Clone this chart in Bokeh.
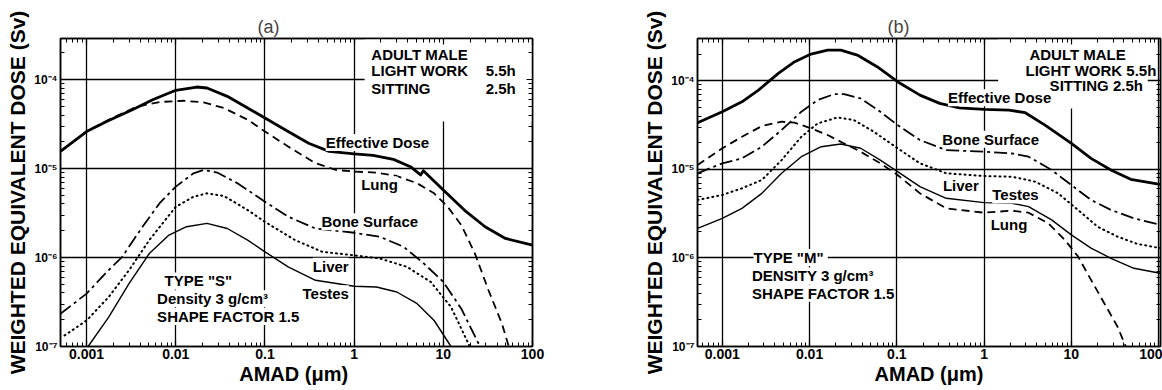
from bokeh.plotting import figure
from bokeh.models import Label, BoxAnnotation, LogAxis, FixedTicker, CustomJSTickFormatter
from bokeh.layouts import row
from bokeh.embed import file_html
from bokeh.resources import INLINE

# ---------------- ticks ----------------
x_ticks = [0.001, 0.01, 0.1, 1, 10, 100]
y_ticks = [1e-7, 1e-6, 1e-5, 1e-4]
x_minor = [m * 10.0 ** e for e in range(-4, 3) for m in range(2, 10)]
y_minor = [m * 10.0 ** e for e in range(-8, -3) for m in range(2, 10)]

# ---------------- panel (a): TYPE "S"  (AMAD in um, dose in Sv) ----------------
a_eff_x = [5.09e-4, 1.0e-3, 1.77e-3, 3.26e-3, 5.51e-3, 0.01, 0.0172, 0.0224, 0.0378, 0.064, 0.1, 0.182,
           0.309, 0.524, 1.0, 1.63, 2.76, 4.28, 5.56, 5.97, 10, 17.2, 29.4, 49.7, 100]
a_eff_y = [1.56e-5, 2.61e-5, 3.48e-5, 4.59e-5, 5.94e-5, 7.59e-5, 8.26e-5, 8.05e-5, 6.49e-5, 4.79e-5, 3.70e-5,
           2.61e-5, 1.93e-5, 1.56e-5, 1.46e-5, 1.41e-5, 1.27e-5, 1.05e-5, 8.49e-6, 9.48e-6, 5.74e-6, 3.42e-6,
           2.22e-6, 1.64e-6, 1.38e-6]

a_lung_x = [5.09e-4, 1.0e-3, 1.77e-3, 3.56e-3, 6.56e-3, 0.0121, 0.0205, 0.0347, 0.064, 0.1, 0.182, 0.369,
            0.624, 1.0, 1.78, 3.01, 5.09, 7.89, 11.2, 15.9, 22.6, 32.1, 45.5, 54.2]
a_lung_y = [1.56e-5, 2.61e-5, 3.54e-5, 4.92e-5, 5.60e-5, 5.79e-5, 5.55e-5, 4.79e-5, 3.54e-5, 2.61e-5, 1.77e-5,
            1.15e-5, 9.66e-6, 9.25e-6, 9.02e-6, 8.26e-6, 6.84e-6, 5.27e-6, 3.72e-6, 2.32e-6, 1.11e-6, 4.29e-7,
            1.80e-7, 1.0e-7]

a_bone_x = [5.09e-4, 1.0e-3, 1.62e-3, 2.51e-3, 4.24e-3, 6.56e-3, 0.01, 0.0158, 0.0205, 0.0291, 0.0492, 0.1,
            0.182, 0.369, 1.0, 1.95, 3.59, 6.07, 10, 15.9, 25.8]
a_bone_y = [2.33e-7, 3.93e-7, 6.61e-7, 1.02e-6, 2.22e-6, 4.06e-6, 6.27e-6, 8.85e-6, 9.66e-6, 9.02e-6, 6.84e-6,
            4.25e-6, 2.88e-6, 2.12e-6, 1.90e-6, 1.71e-6, 1.32e-6, 8.55e-7, 5.32e-7, 2.66e-7, 1.0e-7]

a_liver_x = [5.66e-4, 1.0e-3, 1.77e-3, 2.99e-3, 5.05e-3, 0.01, 0.0158, 0.0224, 0.0347, 0.064, 0.1, 0.218,
             0.44, 1.0, 1.95, 3.92, 7.23, 12.2, 19.8]
a_liver_y = [1.33e-7, 1.96e-7, 3.60e-7, 7.19e-7, 1.57e-6, 3.72e-6, 4.83e-6, 5.27e-6, 4.92e-6, 3.42e-6, 2.52e-6,
             1.57e-6, 1.16e-6, 1.06e-6, 9.75e-7, 7.85e-7, 5.32e-7, 2.78e-7, 1.0e-7]

a_testes_x = [1.04e-3, 1.77e-3, 2.99e-3, 5.05e-3, 8.39e-3, 0.0132, 0.0224, 0.0378, 0.064, 0.1, 0.182, 0.369,
              1.0, 1.78, 3.01, 5.09, 7.89, 12.2]
a_testes_y = [1.0e-7, 2.14e-7, 5.09e-7, 1.11e-6, 1.79e-6, 2.22e-6, 2.42e-6, 2.12e-6, 1.57e-6, 1.16e-6, 7.85e-7,
              5.55e-7, 4.75e-7, 4.67e-7, 4.10e-7, 3.03e-7, 1.96e-7, 1.0e-7]

# ---------------- panel (b): TYPE "M" ----------------
b_eff_x = [5.21e-4, 1.0e-3, 1.68e-3, 2.60e-3, 4.39e-3, 6.76e-3, 0.0104, 0.0161, 0.0228, 0.0352, 0.0594, 0.102,
           0.184, 0.310, 0.521, 1.0, 1.92, 2.96, 4.99, 10, 16.8, 28.4, 47.8, 104]
b_eff_y = [3.36e-5, 4.47e-5, 5.79e-5, 7.85e-5, 1.21e-4, 1.64e-4, 2.0e-4, 2.22e-4, 2.22e-4, 1.95e-4, 1.44e-4,
           9.75e-5, 6.89e-5, 5.55e-5, 4.95e-5, 4.75e-5, 4.67e-5, 4.36e-5, 3.16e-5, 1.96e-5, 1.33e-5, 9.82e-6,
           7.71e-6, 6.78e-6]

b_bone_x = [5.21e-4, 1.0e-3, 1.68e-3, 2.84e-3, 4.78e-3, 8.05e-3, 0.0124, 0.0192, 0.0249, 0.0385, 0.0647, 0.102,
            0.184, 0.368, 1.0, 2.09, 3.23, 5.94, 10, 16.8, 28.4, 52.1, 104]
b_bone_y = [9.02e-6, 1.17e-5, 1.33e-5, 1.80e-5, 2.78e-5, 4.47e-5, 6.05e-5, 7.08e-5, 7.08e-5, 6.32e-5, 4.47e-5,
            3.16e-5, 2.14e-5, 1.65e-5, 1.58e-5, 1.51e-5, 1.39e-5, 9.82e-6, 6.65e-6, 4.51e-6, 3.48e-6, 2.80e-6,
            2.36e-6]

b_liver_x = [5.21e-4, 1.0e-3, 1.68e-3, 2.84e-3, 4.78e-3, 8.05e-3, 0.0124, 0.0209, 0.0323, 0.0544, 0.102, 0.184,
             0.368, 1.0, 2.09, 3.85, 7.06, 11.9, 20.0, 33.7, 56.9, 104]
b_liver_y = [4.51e-6, 5.14e-6, 6.11e-6, 7.59e-6, 1.27e-5, 2.33e-5, 3.30e-5, 3.85e-5, 3.60e-5, 2.66e-5, 1.73e-5,
             1.17e-5, 9.02e-6, 8.41e-6, 8.26e-6, 7.26e-6, 5.36e-6, 3.48e-6, 2.25e-6, 1.74e-6, 1.44e-6, 1.29e-6]

b_testes_x = [5.21e-4, 1.0e-3, 1.68e-3, 2.84e-3, 4.78e-3, 8.05e-3, 0.0136, 0.0228, 0.0385, 0.0647, 0.102, 0.184,
              0.368, 1.0, 2.09, 3.23, 5.94, 10, 16.8, 28.4, 52.1, 104]
b_testes_y = [2.16e-6, 2.80e-6, 3.63e-6, 5.36e-6, 9.02e-6, 1.39e-5, 1.80e-5, 1.93e-5, 1.73e-5, 1.27e-5, 9.42e-6,
              6.38e-6, 4.71e-6, 4.21e-6, 4.14e-6, 3.79e-6, 2.69e-6, 1.82e-6, 1.29e-6, 9.91e-7, 7.64e-7, 6.71e-7]

b_lung_x = [5.21e-4, 1.0e-3, 1.68e-3, 2.84e-3, 4.78e-3, 6.76e-3, 0.0104, 0.0161, 0.0249, 0.0385, 0.0647, 0.102,
            0.184, 0.368, 1.0, 2.09, 3.23, 5.44, 8.41, 11.9, 16.8, 23.8, 33.7, 42.0]
b_lung_y = [1.12e-5, 1.73e-5, 2.33e-5, 3.08e-5, 3.45e-5, 3.36e-5, 2.90e-5, 2.44e-5, 1.96e-5, 1.58e-5, 1.17e-5,
            8.63e-6, 5.36e-6, 3.63e-6, 3.24e-6, 3.42e-6, 3.24e-6, 2.46e-6, 1.60e-6, 1.04e-6, 5.65e-7, 3.08e-7,
            1.68e-7, 1.0e-7]

FONT = "Liberation Sans"

STYLES = {
    "eff": dict(line_width=2.8),
    "lung": dict(line_width=1.8, line_dash="8 5"),
    "bone": dict(line_width=1.8, line_dash="13 4 3 4"),
    "liver": dict(line_width=2.0, line_dash="1 4"),
    "testes": dict(line_width=1.4),
}

x_fmt = CustomJSTickFormatter(code="""
const e = Math.round(Math.log10(tick));
if (e < 0) { return tick.toFixed(-e); }
return String(Math.round(tick));
""")
y_fmt = CustomJSTickFormatter(code="""
const e = Math.round(Math.log10(tick));
const m = {"-":"\u207b","0":"\u2070","1":"\u00b9","2":"\u00b2","3":"\u00b3","4":"\u2074","5":"\u2075","6":"\u2076","7":"\u2077","8":"\u2078","9":"\u2079"};
return "10" + String(e).split("").map(c => m[c]).join("");
""")
blank_fmt = CustomJSTickFormatter(code="return '';")


def style_axis(ax, is_x, labels=True):
    ax.ticker = FixedTicker(ticks=x_ticks if is_x else y_ticks,
                            minor_ticks=x_minor if is_x else y_minor)
    ax.axis_line_color = "black"
    ax.axis_line_width = 1.5
    ax.major_tick_in = 6
    ax.major_tick_out = 0
    ax.minor_tick_in = 4
    ax.minor_tick_out = 0
    ax.major_tick_line_width = 1.2
    ax.minor_tick_line_width = 1.0
    ax.major_label_text_font = FONT
    ax.major_label_text_font_style = "bold"
    ax.major_label_text_color = "black"
    ax.axis_label_text_font = FONT
    ax.axis_label_text_font_style = "bold"
    ax.axis_label_text_color = "black"
    if not labels:
        ax.formatter = blank_fmt
        ax.major_label_text_font_size = "1px"
        ax.major_label_text_color = None
        ax.major_label_standoff = 0


def make_panel(title, width, xr, yr, border_left, border_right, title_offset, xlabel, curves, labels, boxes):
    p = figure(width=width, height=390, x_axis_type="log", y_axis_type="log",
               x_range=xr, y_range=yr, output_backend="svg", toolbar_location=None,
               min_border_left=border_left, min_border_right=border_right, min_border_top=38,
               min_border_bottom=44, title=title)
    p.title.text_font = FONT
    p.title.text_font_size = "18px"
    p.title.text_font_style = "normal"
    p.title.align = "left"
    p.title.offset = title_offset
    p.title.standoff = 4
    p.outline_line_color = "black"
    p.outline_line_width = 1.5
    p.background_fill_color = "white"
    p.border_fill_color = "white"

    top = LogAxis()
    rgt = LogAxis()
    p.add_layout(top, "above")
    p.add_layout(rgt, "right")
    style_axis(p.below[0], True)
    style_axis(top, True, labels=False)
    style_axis(p.left[0], False)
    style_axis(rgt, False, labels=False)
    p.below[0].formatter = x_fmt
    p.left[0].formatter = y_fmt
    xb = p.below[0]
    xb.axis_label = xlabel
    xb.axis_label_text_font_size = "20px"
    xb.axis_label_standoff = 1
    xb.major_label_text_font_size = "14px"
    xb.major_label_standoff = 2
    yl = p.left[0]
    yl.axis_label = "WEIGHTED EQUIVALENT DOSE (Sv)"
    yl.axis_label_text_font_size = "21px"
    yl.axis_label_standoff = 2
    yl.major_label_text_font_size = "12px"
    yl.major_label_standoff = 3

    for g in (p.xgrid, p.ygrid):
        g.grid_line_color = "black"
        g.grid_line_width = 1.3
        g.grid_line_alpha = 1.0

    for (l, r, b, t) in boxes:
        p.add_layout(BoxAnnotation(left=l, right=r, bottom=b, top=t, fill_color="white", fill_alpha=1.0,
                                   line_color=None, level="underlay"))

    for xs, ys, key in curves:
        p.line(xs, ys, line_color="black", line_join="round",
               line_cap="round" if key == "liver" else "butt", **STYLES[key])

    for (x, y, text, align) in labels:
        p.add_layout(Label(x=x, y=y, text=text, text_font=FONT, text_font_size="15px", text_font_style="bold",
                           text_align=align, text_baseline="middle", text_color="black",
                           background_fill_color="white"))
    return p


pa = make_panel(
    "(a)", 640, (5.1e-4, 100), (1e-7, 2.9e-4), 60, 108, 197, "AMAD  (\u03bcm)",
    [(a_lung_x, a_lung_y, "lung"), (a_bone_x, a_bone_y, "bone"), (a_liver_x, a_liver_y, "liver"),
     (a_testes_x, a_testes_y, "testes"), (a_eff_x, a_eff_y, "eff")],
    [(1.56, 1.91e-4, "ADULT MALE", "left"),
     (1.56, 1.26e-4, "LIGHT WORK", "left"),
     (29.9, 1.26e-4, "5.5h", "left"),
     (1.56, 8.05e-5, "SITTING", "left"),
     (29.9, 8.05e-5, "2.5h", "left"),
     (0.48, 1.96e-5, "Effective Dose", "left"),
     (1.20, 6.55e-6, "Lung", "left"),
     (0.43, 2.52e-6, "Bone Surface", "left"),
     (0.344, 7.98e-7, "Liver", "left"),
     (0.264, 3.93e-7, "Testes", "left"),
     (7.5e-3, 5.46e-7, "TYPE  \"S\"", "left"),
     (6.18e-3, 3.45e-7, "Density 3 g/cm\u00b3", "left"),
     (6.18e-3, 2.18e-7, "SHAPE FACTOR 1.5", "left")],
    [(1.31, 100, 3.39e-5, 2.9e-4)])

pb = make_panel(
    "(b)", 522, (5.2e-4, 105), (1e-7, 3.0e-4), 50, 2, 190, "AMAD (\u03bcm)",
    [(b_lung_x, b_lung_y, "lung"), (b_bone_x, b_bone_y, "bone"), (b_liver_x, b_liver_y, "liver"),
     (b_testes_x, b_testes_y, "testes"), (b_eff_x, b_eff_y, "eff")],
    [(42.0, 2.0e-4, "ADULT MALE", "right"),
     (94.0, 1.32e-4, "LIGHT WORK 5.5h", "right"),
     (73.8, 8.93e-5, "SITTING  2.5h", "right"),
     (0.385, 6.43e-5, "Effective Dose", "left"),
     (0.332, 2.18e-5, "Bone Surface", "left"),
     (0.337, 6.55e-6, "Liver", "left"),
     (1.24, 5.14e-6, "Testes", "left"),
     (1.19, 2.40e-6, "Lung", "left"),
     (2.28e-3, 1.01e-6, "TYPE  \"M\"", "left"),
     (2.19e-3, 6.27e-7, "DENSITY  3 g/cm\u00b3", "left"),
     (2.19e-3, 4.0e-7, "SHAPE FACTOR 1.5", "left")],
    [(1.45, 75, 4.87e-5, 3.0e-4)])

layout = row(pa, pb)
open("out.html", "w").write(file_html(layout, INLINE))
